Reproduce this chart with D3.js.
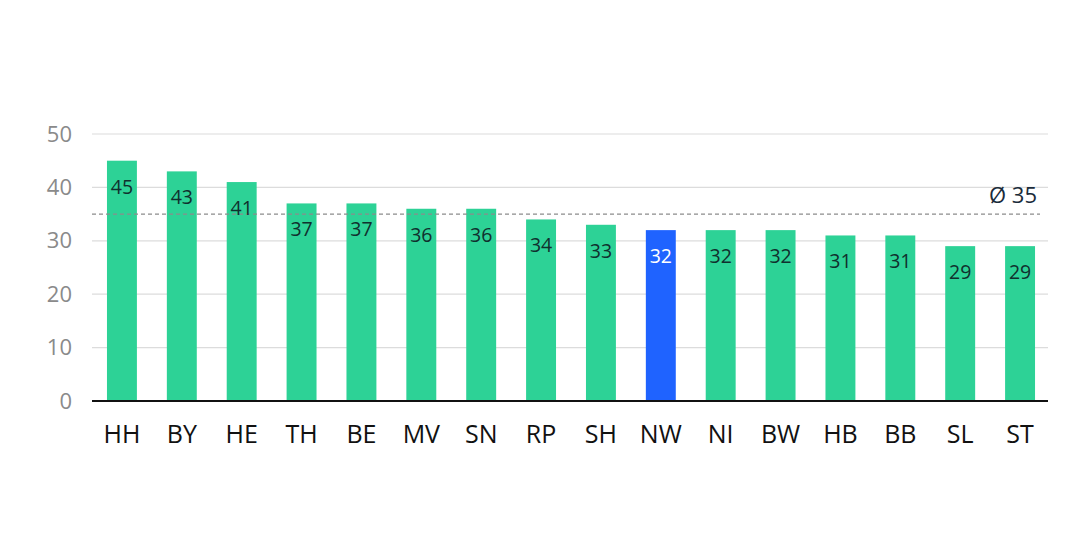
<!DOCTYPE html>
<html><head><meta charset="utf-8">
<script src="https://cdn.jsdelivr.net/npm/d3@7"></script>
<style>body{margin:0;background:#fff}svg{display:block;font-family:"Open Sans",sans-serif}</style>
</head><body><svg id="c" width="1090" height="545"></svg>
<script>
const categories = ["HH","BY","HE","TH","BE","MV","SN","RP","SH","NW","NI","BW","HB","BB","SL","ST"];
const values = [45,43,41,37,37,36,36,34,33,32,32,32,31,31,29,29];
const highlight = ["NW"];
const average = 35;
const yTicks = [0,10,20,30,40,50];

const svg = d3.select("#c");
const mLeft = 92, mRight = 1050, mTop = 134, mBottom = 401;
const x = d3.scaleBand().domain(categories).range([mLeft, mRight]).paddingInner(0.5).paddingOuter(0.25);
const y = d3.scaleLinear().domain([0,50]).range([mBottom, mTop]);

const green = "#2dd296", blue = "#1f63ff";

// gridlines
svg.append("g").selectAll("line").data(yTicks.filter(d=>d>0)).join("line")
  .attr("x1", mLeft).attr("x2", 1048).attr("y1", d=>y(d)).attr("y2", d=>y(d))
  .attr("stroke", "#dcdcdc").attr("stroke-width", 1.2);

// y axis labels
const yAxis = svg.append("g").attr("transform", `translate(${mLeft-20},0)`)
  .call(d3.axisLeft(y).tickValues(yTicks).tickSize(0).tickPadding(0));
yAxis.select(".domain").remove();
yAxis.selectAll("text").attr("font-size", 22).attr("fill", "#8a8a8a").attr("font-family", "Open Sans");

// bars
svg.append("g").selectAll("rect").data(categories).join("rect")
  .attr("x", d=>x(d)).attr("width", x.bandwidth())
  .attr("y", (d,i)=>y(values[i])).attr("height", (d,i)=>mBottom - y(values[i]))
  .attr("fill", d=>highlight.includes(d) ? blue : green);

// average line
svg.append("line").attr("x1", mLeft).attr("x2", 1040).attr("y1", y(average)).attr("y2", y(average))
  .attr("stroke", "#8c8c8c").attr("stroke-width", 1.2).attr("stroke-dasharray", "4,3");
svg.append("text").attr("x", 1037).attr("y", y(average) - 11).attr("text-anchor", "end")
  .attr("font-size", 22).attr("fill", "#1a2b3a").text("Ø " + average);

// value labels
svg.append("g").selectAll("text").data(categories).join("text")
  .attr("x", d=>x(d) + x.bandwidth()/2).attr("y", (d,i)=>y(values[i]) + 33)
  .attr("text-anchor", "middle").attr("font-size", 19.5)
  .attr("fill", d=>highlight.includes(d) ? "#ffffff" : "#10302e")
  .text((d,i)=>values[i]);

// x axis
const xAxis = svg.append("g").attr("transform", `translate(0,${mBottom})`)
  .call(d3.axisBottom(x).tickSize(0).tickPadding(24));
xAxis.select(".domain").attr("stroke", "#111").attr("stroke-width", 2).attr("d", `M${mLeft},0H1048`);
xAxis.selectAll("text").attr("font-size", 25).attr("fill", "#111").attr("font-family", "Open Sans");
</script></body></html>
